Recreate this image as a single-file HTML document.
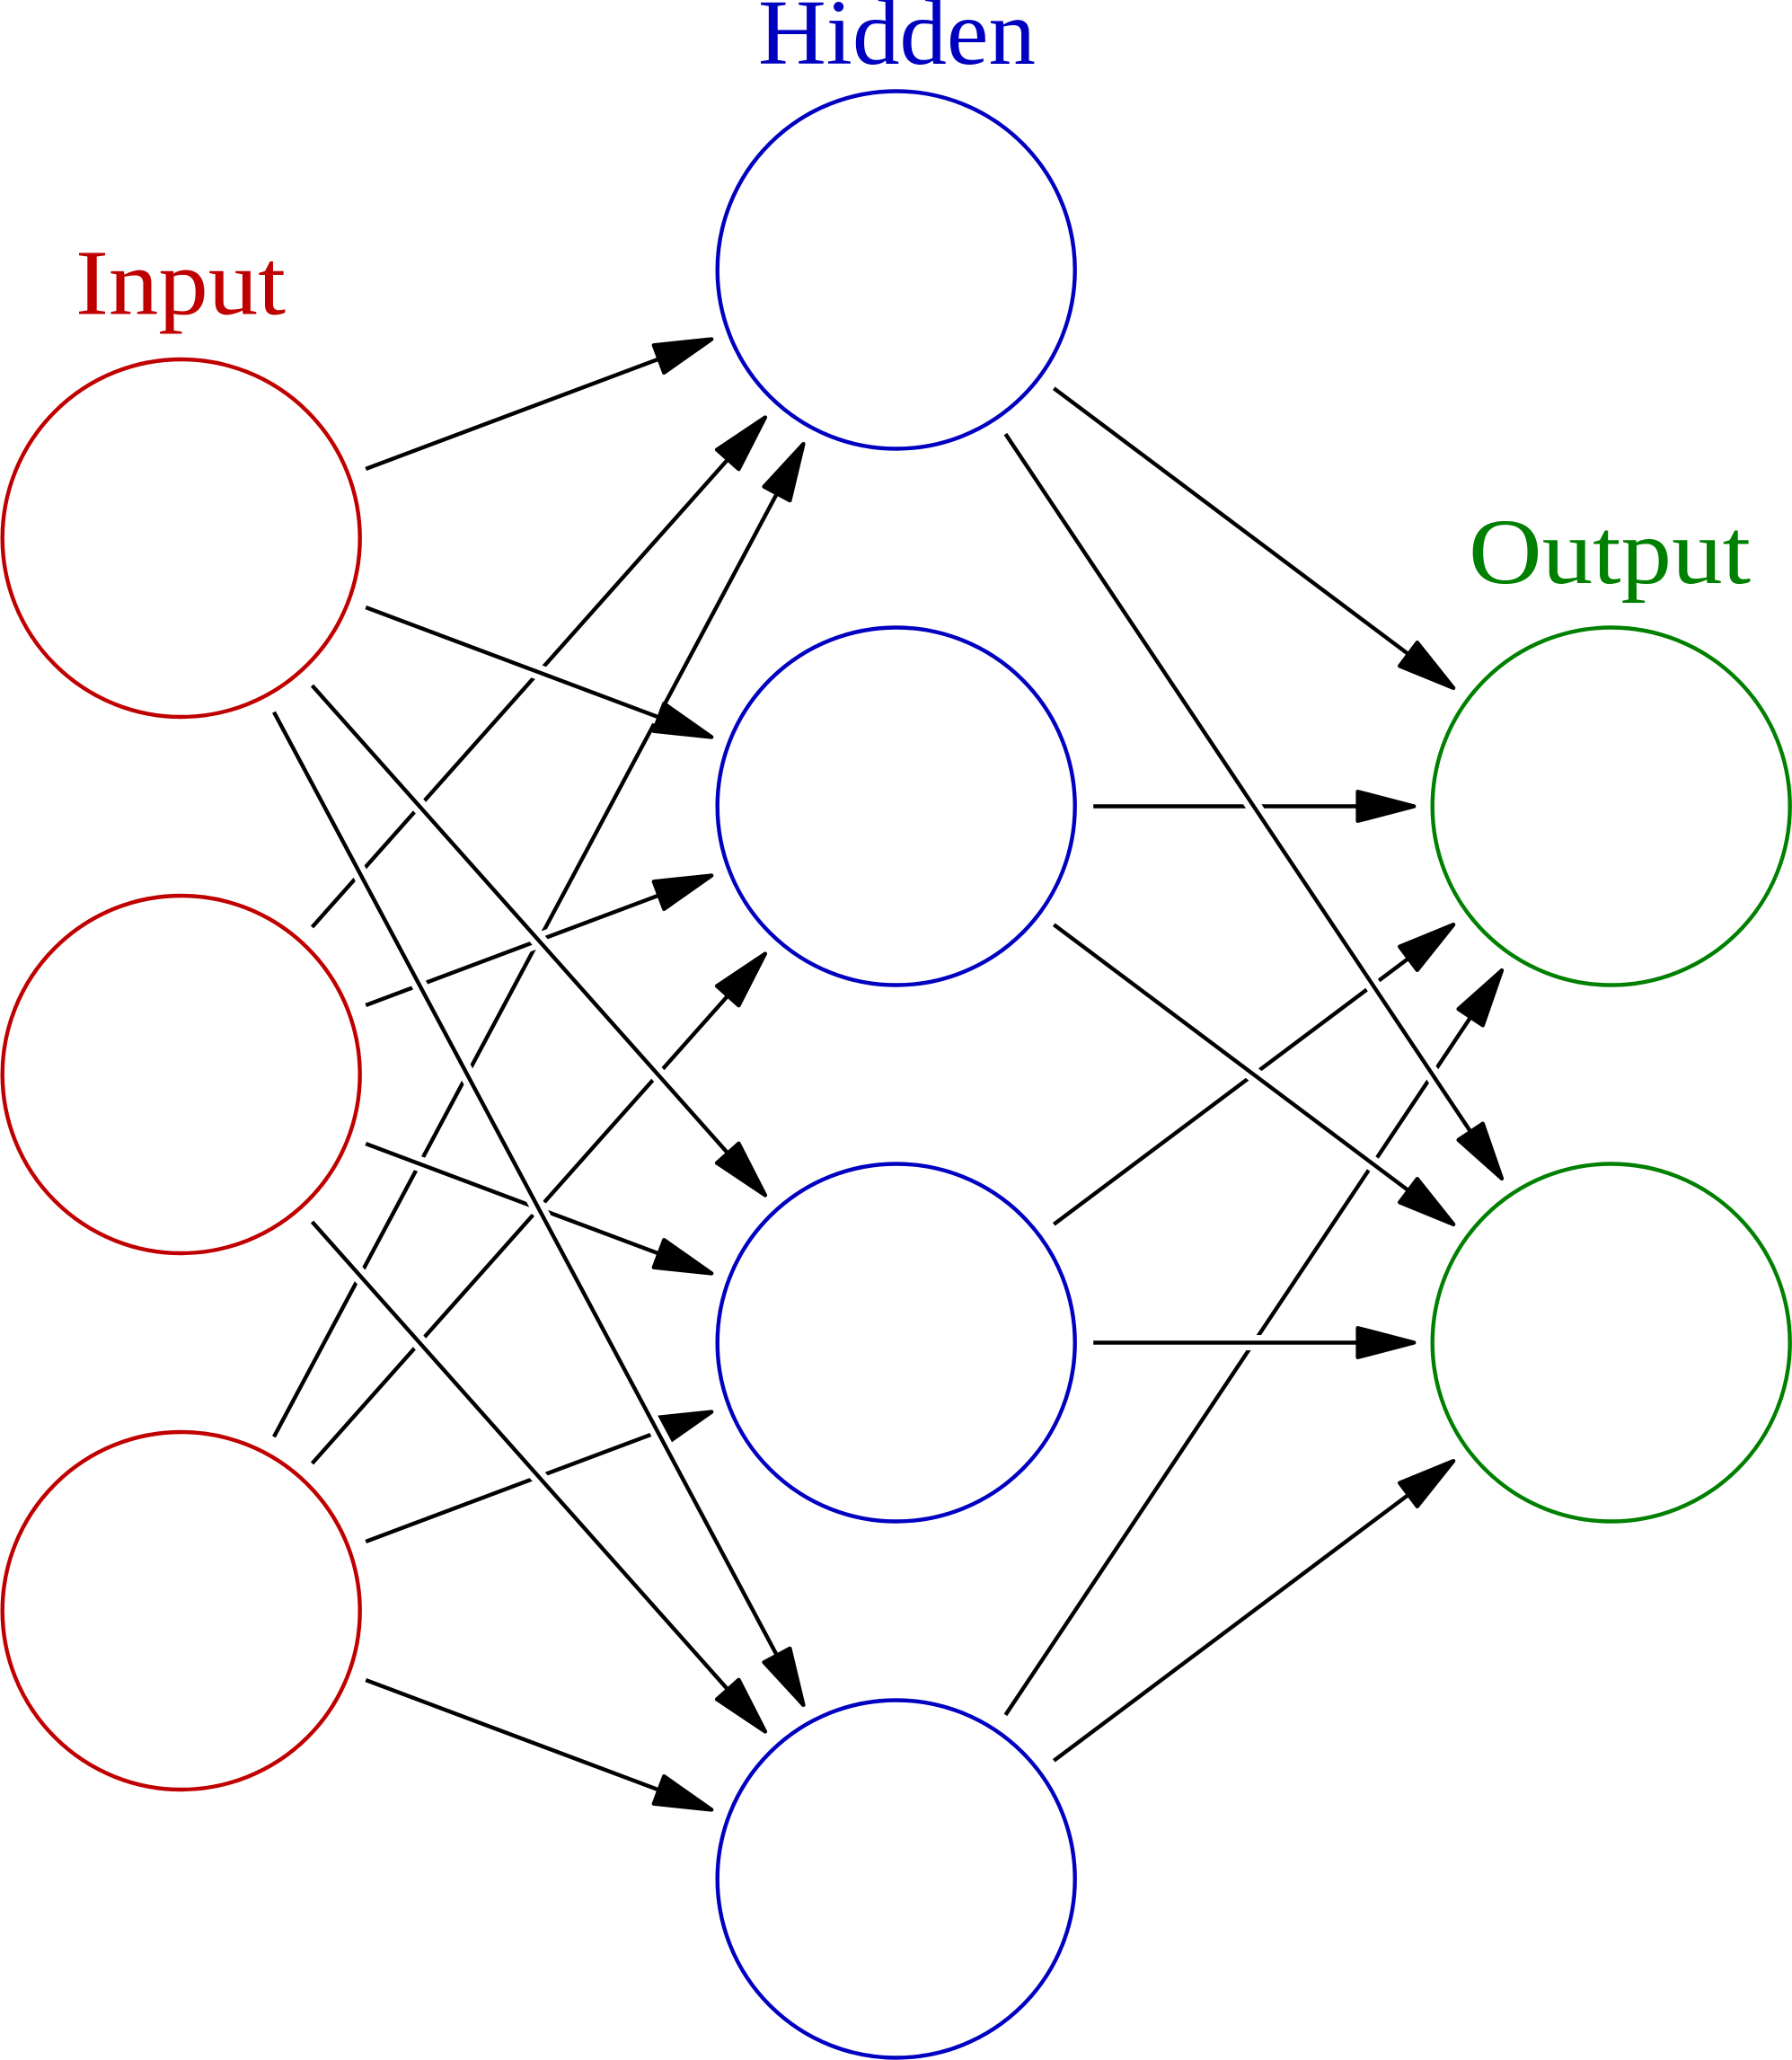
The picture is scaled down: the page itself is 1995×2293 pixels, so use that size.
<!DOCTYPE html>
<html>
<head>
<meta charset="utf-8">
<style>
html,body{margin:0;padding:0;background:#fff;}
svg{display:block;}
.w{stroke:#fff;stroke-width:17;fill:none;}
.k{stroke:#000;stroke-width:4.4;fill:none;}
.a{fill:#000;stroke:#000;stroke-width:4.4;stroke-linejoin:round;}
.lbl{font-family:"Liberation Serif",serif;font-size:104px;}
</style>
</head>
<body>
<svg width="1995" height="2293" viewBox="0 0 1995 2293" xmlns="http://www.w3.org/2000/svg">
<rect width="1995" height="2293" fill="#fff"/>

<!-- Labels -->
<text class="lbl" x="84" y="349.5" textLength="234" lengthAdjust="spacingAndGlyphs" fill="#c00000">Input</text>
<text class="lbl" x="844" y="71" textLength="309" lengthAdjust="spacingAndGlyphs" fill="#0000c0">Hidden</text>
<text class="lbl" x="1635" y="649" textLength="314" lengthAdjust="spacingAndGlyphs" fill="#008000">Output</text>

<!-- Nodes -->
<g fill="none" stroke-width="4.4">
<circle cx="201.7" cy="599" r="199" stroke="#c00000"/>
<circle cx="201.7" cy="1196" r="199" stroke="#c00000"/>
<circle cx="201.7" cy="1793" r="199" stroke="#c00000"/>
<circle cx="997.7" cy="300.5" r="199" stroke="#0000c0"/>
<circle cx="997.7" cy="897.5" r="199" stroke="#0000c0"/>
<circle cx="997.7" cy="1494.5" r="199" stroke="#0000c0"/>
<circle cx="997.7" cy="2091.5" r="199" stroke="#0000c0"/>
<circle cx="1793.7" cy="897.5" r="199" stroke="#008000"/>
<circle cx="1793.7" cy="1494.5" r="199" stroke="#008000"/>
</g>

<!-- Edges: Target H1 -->
<g transform="translate(201.7 599) rotate(-20.556)">
<line class="w" x1="219.5" y1="0" x2="568" y2="0"/><line class="k" x1="219.5" y1="0" x2="573" y2="0"/>
<polygon class="a" points="630.63,0 568.03,-16.3 568.03,16.3"/></g>
<g transform="translate(201.7 1196) rotate(-48.366)">
<line class="w" x1="219.5" y1="0" x2="916" y2="0"/><line class="k" x1="219.5" y1="0" x2="921" y2="0"/>
<polygon class="a" points="978.64,0 916.04,-16.3 916.04,16.3"/></g>
<g transform="translate(201.7 1793) rotate(-61.928)">
<line class="w" x1="219.5" y1="0" x2="1409.4" y2="0"/><line class="k" x1="219.5" y1="0" x2="1414" y2="0"/>
<polygon class="a" points="1472.01,0 1409.41,-16.3 1409.41,16.3"/></g>

<!-- Target H2 -->
<g transform="translate(201.7 599) rotate(20.556)">
<line class="w" x1="219.5" y1="0" x2="568" y2="0"/><line class="k" x1="219.5" y1="0" x2="573" y2="0"/>
<polygon class="a" points="630.63,0 568.03,-16.3 568.03,16.3"/></g>
<g transform="translate(201.7 1196) rotate(-20.556)">
<line class="w" x1="219.5" y1="0" x2="568" y2="0"/><line class="k" x1="219.5" y1="0" x2="573" y2="0"/>
<polygon class="a" points="630.63,0 568.03,-16.3 568.03,16.3"/></g>
<g transform="translate(201.7 1793) rotate(-48.366)">
<line class="w" x1="219.5" y1="0" x2="916" y2="0"/><line class="k" x1="219.5" y1="0" x2="921" y2="0"/>
<polygon class="a" points="978.64,0 916.04,-16.3 916.04,16.3"/></g>

<!-- Target H3 -->
<g transform="translate(201.7 599) rotate(48.366)">
<line class="w" x1="219.5" y1="0" x2="916" y2="0"/><line class="k" x1="219.5" y1="0" x2="921" y2="0"/>
<polygon class="a" points="978.64,0 916.04,-16.3 916.04,16.3"/></g>
<g transform="translate(201.7 1196) rotate(20.556)">
<line class="w" x1="219.5" y1="0" x2="568" y2="0"/><line class="k" x1="219.5" y1="0" x2="573" y2="0"/>
<polygon class="a" points="630.63,0 568.03,-16.3 568.03,16.3"/></g>
<g transform="translate(201.7 1793) rotate(-20.556)">
<line class="w" x1="219.5" y1="0" x2="568" y2="0"/><line class="k" x1="219.5" y1="0" x2="573" y2="0"/>
<polygon class="a" points="630.63,0 568.03,-16.3 568.03,16.3"/></g>

<!-- Target H4 -->
<g transform="translate(201.7 599) rotate(61.928)">
<line class="w" x1="219.5" y1="0" x2="1409.4" y2="0"/><line class="k" x1="219.5" y1="0" x2="1414" y2="0"/>
<polygon class="a" points="1472.01,0 1409.41,-16.3 1409.41,16.3"/></g>
<g transform="translate(201.7 1196) rotate(48.366)">
<line class="w" x1="219.5" y1="0" x2="916" y2="0"/><line class="k" x1="219.5" y1="0" x2="921" y2="0"/>
<polygon class="a" points="978.64,0 916.04,-16.3 916.04,16.3"/></g>
<g transform="translate(201.7 1793) rotate(20.556)">
<line class="w" x1="219.5" y1="0" x2="568" y2="0"/><line class="k" x1="219.5" y1="0" x2="573" y2="0"/>
<polygon class="a" points="630.63,0 568.03,-16.3 568.03,16.3"/></g>

<!-- Target O1 -->
<g transform="translate(997.7 300.5) rotate(36.870)">
<line class="w" x1="219.5" y1="0" x2="712.9" y2="0"/><line class="k" x1="219.5" y1="0" x2="718" y2="0"/>
<polygon class="a" points="775.5,0 712.9,-16.3 712.9,16.3"/></g>
<g transform="translate(997.7 897.5)">
<line class="w" x1="219.5" y1="0" x2="513.9" y2="0"/><line class="k" x1="219.5" y1="0" x2="519" y2="0"/>
<polygon class="a" points="576.5,0 513.9,-16.3 513.9,16.3"/></g>
<g transform="translate(997.7 1494.5) rotate(-36.870)">
<line class="w" x1="219.5" y1="0" x2="712.9" y2="0"/><line class="k" x1="219.5" y1="0" x2="718" y2="0"/>
<polygon class="a" points="775.5,0 712.9,-16.3 712.9,16.3"/></g>
<g transform="translate(997.7 2091.5) rotate(-56.310)">
<line class="w" x1="219.5" y1="0" x2="1152.9" y2="0"/><line class="k" x1="219.5" y1="0" x2="1158" y2="0"/>
<polygon class="a" points="1215.51,0 1152.91,-16.3 1152.91,16.3"/></g>

<!-- Target O2 -->
<g transform="translate(997.7 300.5) rotate(56.310)">
<line class="w" x1="219.5" y1="0" x2="1152.9" y2="0"/><line class="k" x1="219.5" y1="0" x2="1158" y2="0"/>
<polygon class="a" points="1215.51,0 1152.91,-16.3 1152.91,16.3"/></g>
<g transform="translate(997.7 897.5) rotate(36.870)">
<line class="w" x1="219.5" y1="0" x2="712.9" y2="0"/><line class="k" x1="219.5" y1="0" x2="718" y2="0"/>
<polygon class="a" points="775.5,0 712.9,-16.3 712.9,16.3"/></g>
<g transform="translate(997.7 1494.5)">
<line class="w" x1="219.5" y1="0" x2="513.9" y2="0"/><line class="k" x1="219.5" y1="0" x2="519" y2="0"/>
<polygon class="a" points="576.5,0 513.9,-16.3 513.9,16.3"/></g>
<g transform="translate(997.7 2091.5) rotate(-36.870)">
<line class="w" x1="219.5" y1="0" x2="712.9" y2="0"/><line class="k" x1="219.5" y1="0" x2="718" y2="0"/>
<polygon class="a" points="775.5,0 712.9,-16.3 712.9,16.3"/></g>

</svg>
</body>
</html>
